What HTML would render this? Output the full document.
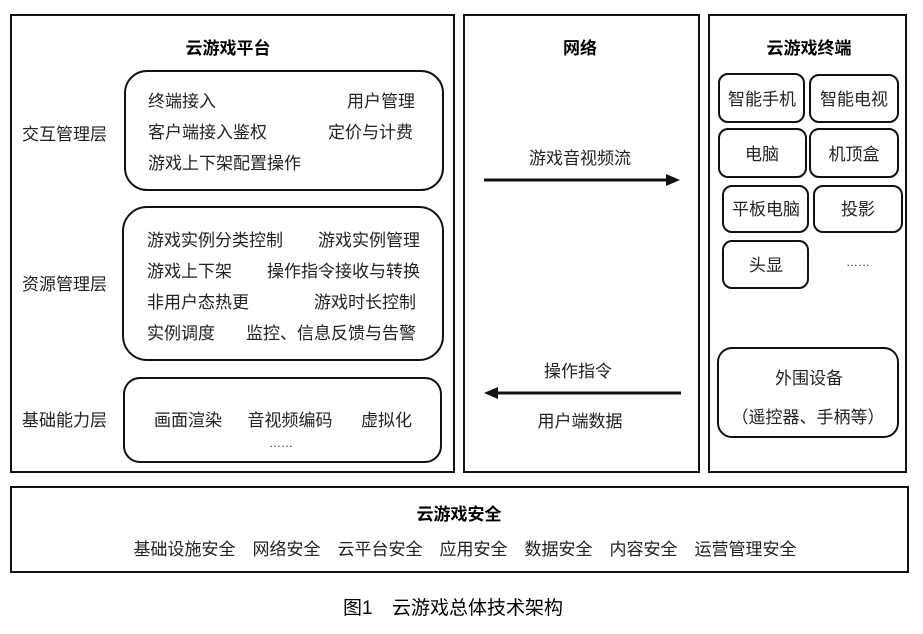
<!DOCTYPE html>
<html><head><meta charset="utf-8"><style>
body{margin:0;background:#fff;}
svg text{font-family:"Liberation Sans","Noto Sans CJK SC",sans-serif;font-size:17px;fill:#222;}
.b{font-weight:bold;fill:#000;}
</style></head><body>
<svg width="923" height="629" viewBox="0 0 923 629" xmlns="http://www.w3.org/2000/svg">
<g fill="none" stroke="#111" stroke-width="2">
<rect x="11" y="15" width="443" height="457"/>
<rect x="464" y="15" width="235" height="457"/>
<rect x="709" y="15" width="197" height="457"/>
<rect x="11" y="487" width="897" height="85"/>
<rect x="125" y="71" width="318" height="119" rx="22"/>
<rect x="123" y="207" width="320" height="153" rx="24"/>
<rect x="124" y="378" width="317" height="84" rx="16"/>
<rect x="719" y="74" width="85" height="48" rx="9"/>
<rect x="810" y="75" width="88" height="47" rx="9"/>
<rect x="719" y="129" width="87" height="48" rx="9"/>
<rect x="810" y="129" width="88" height="48" rx="9"/>
<rect x="723" y="186" width="85" height="46" rx="9"/>
<rect x="814" y="186" width="88" height="46" rx="9"/>
<rect x="723" y="241" width="85" height="47" rx="9"/>
<rect x="718" y="348" width="180" height="89" rx="14"/>
<line x1="484" y1="180" x2="668" y2="180" stroke-width="3"/>
<line x1="496" y1="393" x2="681" y2="393" stroke-width="3"/>
</g>
<polygon points="680,180 666,174 666,186" fill="#111"/>
<polygon points="484,393 498,387 498,399" fill="#111"/>
<text class="b" x="228" y="54" text-anchor="middle">云游戏平台</text>
<text class="b" x="580" y="54" text-anchor="middle">网络</text>
<text class="b" x="809" y="54" text-anchor="middle">云游戏终端</text>
<text x="22" y="140">交互管理层</text>
<text x="22" y="290">资源管理层</text>
<text x="22" y="426">基础能力层</text>
<text x="148" y="107">终端接入</text>
<text x="415" y="107" text-anchor="end">用户管理</text>
<text x="148" y="138">客户端接入鉴权</text>
<text x="413" y="138" text-anchor="end">定价与计费</text>
<text x="148" y="169">游戏上下架配置操作</text>
<text x="147" y="246">游戏实例分类控制</text>
<text x="420" y="246" text-anchor="end">游戏实例管理</text>
<text x="147" y="277">游戏上下架</text>
<text x="420" y="277" text-anchor="end">操作指令接收与转换</text>
<text x="147" y="308">非用户态热更</text>
<text x="416" y="308" text-anchor="end">游戏时长控制</text>
<text x="147" y="339">实例调度</text>
<text x="416" y="339" text-anchor="end">监控、信息反馈与告警</text>
<text x="154" y="426">画面渲染</text>
<text x="290" y="426" text-anchor="middle">音视频编码</text>
<text x="412" y="426" text-anchor="end">虚拟化</text>
<text x="281" y="447" text-anchor="middle" style="font-size:12px">……</text>
<text x="580" y="164" text-anchor="middle">游戏音视频流</text>
<text x="578" y="377" text-anchor="middle">操作指令</text>
<text x="580" y="427" text-anchor="middle">用户端数据</text>
<text x="762" y="105" text-anchor="middle">智能手机</text>
<text x="854" y="105" text-anchor="middle">智能电视</text>
<text x="762" y="160" text-anchor="middle">电脑</text>
<text x="854" y="160" text-anchor="middle">机顶盒</text>
<text x="766" y="215" text-anchor="middle">平板电脑</text>
<text x="858" y="215" text-anchor="middle">投影</text>
<text x="766" y="271" text-anchor="middle">头显</text>
<text x="858" y="266" text-anchor="middle" style="font-size:12px">……</text>
<text x="809" y="384" text-anchor="middle">外围设备</text>
<text x="808" y="423" text-anchor="middle">（遥控器、手柄等）</text>
<text class="b" x="459" y="520" text-anchor="middle">云游戏安全</text>
<text x="465" y="555" text-anchor="middle">基础设施安全　网络安全　云平台安全　应用安全　数据安全　内容安全　运营管理安全</text>
<text x="343" y="614" style="font-size:19px;fill:#000">图1</text>
<text x="392" y="614" style="font-size:19px;fill:#000">云游戏总体技术架构</text>
</svg>
</body></html>
